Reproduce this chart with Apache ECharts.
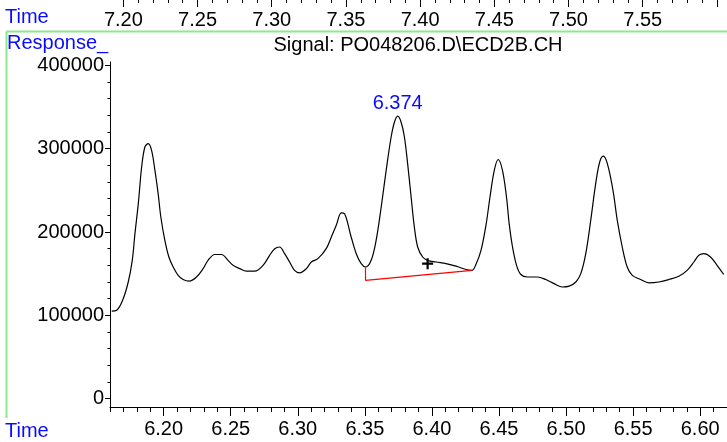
<!DOCTYPE html>
<html><head><meta charset="utf-8">
<script src="https://cdn.jsdelivr.net/npm/echarts@6/dist/echarts.min.js"></script>
<style>html,body{margin:0;padding:0;background:#fff}#c{width:727px;height:442px}</style>
</head><body><div id="c"></div>
<script>
// ---- data ----
const times = [6.1613,6.1650,6.1694,6.1736,6.1766,6.1786,6.1811,6.1836,6.1860,6.1885,6.1910,6.1935,6.1959,6.1979,6.2009,6.2039,6.2071,6.2108,6.2145,6.2190,6.2245,6.2294,6.2331,6.2381,6.2431,6.2480,6.2517,6.2567,6.2617,6.2679,6.2741,6.2790,6.2828,6.2865,6.2902,6.2939,6.2976,6.3014,6.3064,6.3101,6.3150,6.3212,6.3250,6.3287,6.3324,6.3349,6.3398,6.3436,6.3473,6.3505,6.3547,6.3584,6.3622,6.3659,6.3696,6.3721,6.3745,6.3770,6.3795,6.3819,6.3845,6.3869,6.3894,6.3931,6.3968,6.4031,6.4105,6.4180,6.4254,6.4299,6.4328,6.4366,6.4403,6.4433,6.4465,6.4494,6.4526,6.4556,6.4576,6.4601,6.4631,6.4663,6.4712,6.4787,6.4849,6.4911,6.4973,6.5023,6.5073,6.5110,6.5147,6.5184,6.5221,6.5251,6.5278,6.5308,6.5350,6.5382,6.5419,6.5456,6.5494,6.5556,6.5618,6.5692,6.5767,6.5841,6.5903,6.5953,6.5990,6.6027,6.6077,6.6126,6.6176];
const responses = [105000,106000,118000,140000,166000,198000,234000,278000,302000,306000,298000,274000,246000,218000,190000,170000,158000,148000,143000,141000,146000,156000,166000,173000,173000,166000,160000,156000,153000,153000,160000,172000,180000,182000,174000,164000,154000,151000,156000,164000,168000,180000,194000,208000,223000,222000,194000,174000,162000,158000,166000,190000,230000,274000,314000,332000,339000,332000,314000,282000,242000,206000,182000,170000,166000,164000,162000,159000,155000,154000,161000,178000,208000,242000,274000,287000,274000,242000,210000,182000,160000,149000,146000,146000,143000,138000,134000,135000,140000,150000,174000,214000,258000,284000,291000,282000,250000,214000,182000,158000,148000,143000,139000,140000,143000,147000,154000,164000,172000,174000,170000,160000,149000];

const peakTime = 6.3745, peakValue = 339000, peakLabel = '6.374';
const baselineTimes = [6.3505, 6.3505, 6.4299];
const baselineValues = [158000, 142000, 154000];
const markerTime = 6.3968, markerValue = 162000;

const yTickLabels = [0, 100000, 200000, 300000, 400000];
const xTickLabels = [6.20, 6.25, 6.30, 6.35, 6.40, 6.45, 6.50, 6.55, 6.60];
const topTickLabels = [7.20, 7.25, 7.30, 7.35, 7.40, 7.45, 7.50, 7.55];
const topMajorTicks = [7.20, 7.25, 7.30, 7.35, 7.40, 7.45, 7.50, 7.55, 7.60];

const yMinor = []; for (let v = 0; v <= 400000; v += 20000) yMinor.push(v);
const xMinor = []; for (let i = 616; i <= 662; i++) xMinor.push(i / 100);
const topMinor = []; for (let i = 720; i <= 760; i++) topMinor.push(i / 100);

const FONT = 'Liberation Sans, Arial, sans-serif';
const FS = 20;
const BLUE = '#0a0aff';
const GREEN = '#8ee88e';

const chart = echarts.init(document.getElementById('c'), null, {renderer: 'canvas'});
chart.setOption({
  animation: false,
  backgroundColor: '#fff',
  textStyle: {fontFamily: FONT},
  grid: [
    {left: 110, right: 0, top: 62, bottom: 35},
    {left: 110, right: 0, top: 0, height: 1}
  ],
  xAxis: [
    {gridIndex: 0, type: 'value', position: 'bottom', min: 6.16, max: 6.62,
     axisLine: {show: true, onZero: false, lineStyle: {color: '#000', width: 1}},
     axisTick: {show: true, customValues: xTickLabels, length: 9, lineStyle: {color: '#000'}},
     axisLabel: {show: true, customValues: xTickLabels, formatter: v => v.toFixed(2), fontSize: FS, color: '#000', fontFamily: FONT, margin: 12},
     splitLine: {show: false}},
    {gridIndex: 0, type: 'value', position: 'bottom', min: 6.16, max: 6.62,
     axisLine: {show: false, onZero: false},
     axisTick: {show: true, customValues: xMinor, length: 5, lineStyle: {color: '#000'}},
     axisLabel: {show: false}, splitLine: {show: false}},
    {gridIndex: 1, type: 'value', position: 'top', min: 7.191, max: 7.6068,
     axisLine: {show: false, onZero: false},
     axisTick: {show: true, inside: true, customValues: topMajorTicks, length: 7, lineStyle: {color: '#000'}},
     axisLabel: {show: true, inside: true, customValues: topTickLabels, formatter: v => v.toFixed(2), fontSize: FS, color: '#000', fontFamily: FONT, margin: 10},
     splitLine: {show: false}},
    {gridIndex: 1, type: 'value', position: 'top', min: 7.191, max: 7.6068,
     axisLine: {show: false, onZero: false},
     axisTick: {show: true, inside: true, customValues: topMinor, length: 3, lineStyle: {color: '#000'}},
     axisLabel: {show: false}, splitLine: {show: false}}
  ],
  yAxis: [
    {gridIndex: 0, type: 'value', position: 'left', min: -10000, max: 404000,
     axisLine: {show: true, onZero: false, lineStyle: {color: '#000', width: 1}},
     axisTick: {show: true, customValues: yTickLabels, length: 5, lineStyle: {color: '#000'}},
     axisLabel: {show: true, customValues: yTickLabels, formatter: v => String(v), fontSize: FS, color: '#000', fontFamily: FONT, margin: 6},
     splitLine: {show: false}},
    {gridIndex: 0, type: 'value', position: 'left', min: -10000, max: 404000,
     axisLine: {show: false, onZero: false},
     axisTick: {show: true, customValues: yMinor, length: 2.5, lineStyle: {color: '#000'}},
     axisLabel: {show: false}, splitLine: {show: false}},
    {gridIndex: 1, type: 'value', show: false}
  ],
  series: [
    {type: 'line', xAxisIndex: 0, yAxisIndex: 0, data: times.map((t, i) => [t, responses[i]]),
     smooth: 0.35, showSymbol: false, lineStyle: {color: '#000', width: 1.2}, silent: true},
    {type: 'line', xAxisIndex: 0, yAxisIndex: 0, data: baselineTimes.map((t, i) => [t, baselineValues[i]]),
     showSymbol: false, lineStyle: {color: '#ff0000', width: 1.2}, silent: true},
    {type: 'scatter', xAxisIndex: 0, yAxisIndex: 0, data: [[peakTime, peakValue]], symbolSize: 0,
     itemStyle: {opacity: 1},
     label: {show: true, position: 'top', distance: 3, formatter: peakLabel, color: BLUE, fontSize: FS, fontFamily: FONT}, silent: true},
    {type: 'scatter', xAxisIndex: 0, yAxisIndex: 0, data: [[markerTime, markerValue]],
     symbol: 'path://M4,0H6V4H10V6H6V10H4V6H0V4H4Z', symbolSize: 11,
     itemStyle: {color: '#000', opacity: 1}, silent: true}
  ],
  graphic: [
    {type: 'line', shape: {x1: 6.5, y1: 31.5, x2: 727, y2: 31.5}, style: {stroke: GREEN, lineWidth: 2}, silent: true},
    {type: 'line', shape: {x1: 6.5, y1: 31.5, x2: 6.5, y2: 418}, style: {stroke: GREEN, lineWidth: 2}, silent: true},
    {type: 'text', left: 5, top: 7, style: {text: 'Time', fill: BLUE, font: FS + 'px ' + FONT}, silent: true},
    {type: 'text', left: 7, top: 33, style: {text: 'Response_', fill: BLUE, font: FS + 'px ' + FONT}, silent: true},
    {type: 'text', left: 5, top: 421, style: {text: 'Time', fill: BLUE, font: FS + 'px ' + FONT}, silent: true},
    {type: 'text', x: 418, y: 35, style: {text: 'Signal: PO048206.D\\ECD2B.CH', fill: '#000', font: FS + 'px ' + FONT, align: 'center', verticalAlign: 'top'}, silent: true}
  ]
});
</script>
</body></html>
